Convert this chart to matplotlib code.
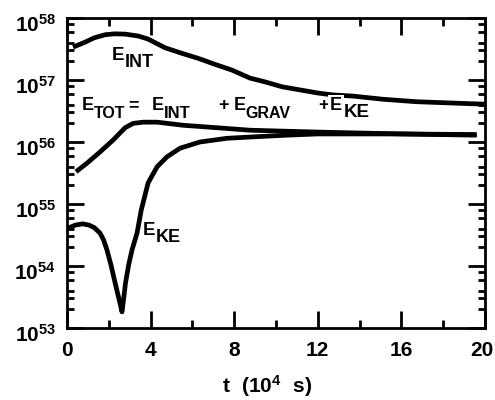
import numpy as np
import matplotlib
matplotlib.use('Agg')
import matplotlib.pyplot as plt
from matplotlib.ticker import FixedLocator, LogLocator, NullFormatter
from matplotlib.transforms import ScaledTranslation

plt.rcParams['font.family'] = 'Liberation Sans'
plt.rcParams['font.weight'] = 'bold'
plt.rcParams['mathtext.fontset'] = 'custom'
plt.rcParams['mathtext.rm'] = 'Liberation Sans:bold'
plt.rcParams['mathtext.it'] = 'Liberation Sans:bold'
plt.rcParams['mathtext.bf'] = 'Liberation Sans:bold'

# curves: time (1e4 s) and log10 of energy
t_int = [0.29, 0.86, 1.3, 1.82, 2.3, 2.78, 3.4, 3.88, 4.69, 5.5, 6.27, 7.1, 7.89, 8.76, 9.47, 10.3,
         12.0, 12.7, 13.7, 15.1, 16.7, 18.3, 20.0]
log_int = [57.53, 57.61, 57.68, 57.73, 57.745, 57.74, 57.71, 57.66, 57.52, 57.43, 57.35, 57.25, 57.16,
           57.03, 56.97, 56.89, 56.79, 56.76, 56.74, 56.69, 56.65, 56.63, 56.61]

t_tot = [0.43, 0.96, 1.58, 2.2, 2.78, 3.16, 3.64, 4.31, 5.55, 7.18, 8.76, 12.0, 16.0, 19.6]
log_tot = [55.52, 55.66, 55.84, 56.03, 56.23, 56.30, 56.32, 56.32, 56.27, 56.23, 56.19, 56.16, 56.13, 56.12]

t_ke = [0.05, 0.4, 0.75, 1.05, 1.3, 1.58, 1.75, 1.91, 2.1, 2.3, 2.5, 2.63, 2.72, 2.8, 2.95, 3.11,
        3.35, 3.55, 3.88, 4.31, 4.78, 5.41, 6.36, 7.66, 8.76, 10.5, 12.0, 16.0, 19.6]
log_ke = [54.61, 54.66, 54.68, 54.66, 54.62, 54.53, 54.42, 54.26, 54.02, 53.73, 53.45, 53.26, 53.5,
          53.73, 54.02, 54.26, 54.53, 54.9, 55.34, 55.6, 55.76, 55.9, 56.0, 56.06, 56.08, 56.11,
          56.13, 56.13, 56.11]

ytick_exp = [53, 54, 55, 56, 57, 58]


def draw_label(ax, x, y, parts, drop=5):
    # write E with sub-scripts piece by piece, each chained to the previous one
    prev, prev_kind = None, None
    for s, kind, size, gap, boxed in parts:
        bb = dict(facecolor='white', edgecolor='none', pad=1.5) if boxed else None
        if prev is None:
            prev = ax.text(x, y, s, fontsize=size, va='baseline', bbox=bb)
        else:
            dy = 0
            if prev_kind == 'm' and kind == 's':
                dy = -drop
            elif prev_kind == 's' and kind == 'm':
                dy = drop
            prev = ax.annotate(s, xy=(1, 0), xycoords=prev, xytext=(gap, dy),
                               textcoords='offset points', va='bottom', ha='left',
                               fontsize=size, bbox=bb)
        prev_kind = kind


fig = plt.figure(figsize=(4.95, 4.0), dpi=100)
ax = fig.add_axes([0.1354, 0.18, 0.8444, 0.775])

for t, lg in [(t_int, log_int), (t_tot, log_tot), (t_ke, log_ke)]:
    ax.plot(t, 10 ** np.array(lg), color='black', lw=3.4, solid_capstyle='butt',
            solid_joinstyle='round')

ax.set_yscale('log')
ax.set_xlim(0, 20)
ax.set_ylim(1e53, 1e58)

ax.xaxis.set_major_locator(FixedLocator([0, 4, 8, 12, 16, 20]))
ax.xaxis.set_minor_locator(FixedLocator([2, 6, 10, 14, 18]))
ax.yaxis.set_minor_locator(LogLocator(base=10, subs=[2, 3, 4, 6, 8], numticks=20))
ax.yaxis.set_minor_formatter(NullFormatter())
ax.set_yticks([10.0 ** k for k in ytick_exp])
ax.set_yticklabels([r'$10^{%d}$' % k for k in ytick_exp])

ax.tick_params(which='both', direction='in', top=True, right=True, width=2)
ax.tick_params(which='major', length=12, labelsize=15)
ax.tick_params(axis='y', which='major', pad=8)
ax.tick_params(axis='x', which='major', pad=9)
ax.tick_params(axis='y', which='minor', length=5)
ax.tick_params(axis='x', which='minor', length=6)
for s in ax.spines.values():
    s.set_linewidth(2)
for lab in ax.get_yticklabels():
    lab.set_transform(lab.get_transform() + ScaledTranslation(0, -0.05, fig.dpi_scale_trans))
last = ax.get_xticklabels()[-1]
last.set_transform(last.get_transform() + ScaledTranslation(-0.03, 0, fig.dpi_scale_trans))

ax.set_xlabel(r'$t\ \ (10^{4}\ \ s)$', fontsize=15)
ax.xaxis.set_label_coords(0.478, -0.145)

draw_label(ax, 2.15, 10 ** 57.32, [('E', 'm', 13.5, 0, False), ('INT', 's', 13, 0, False)])
draw_label(ax, 0.72, 10 ** 56.51, [
    ('E', 'm', 13, 0, False), ('TOT', 's', 11.5, 0, False),
    ('=', 'm', 13, 2, False), ('E', 'm', 13, 9, False), ('INT', 's', 12, 0, False),
    ('+', 'm', 13, 20, False), ('E', 'm', 13, 3.6, False), ('GRAV', 's', 11.5, 0, False),
    ('+', 'm', 13, 20, False), ('E', 'm', 13, 1, True), ('KE', 's', 13.5, 1, False)])
draw_label(ax, 3.64, 10 ** 54.5, [('E', 'm', 13.5, 0, False), ('KE', 's', 13, 0, False)])

fig.savefig('out.png', dpi=100)
